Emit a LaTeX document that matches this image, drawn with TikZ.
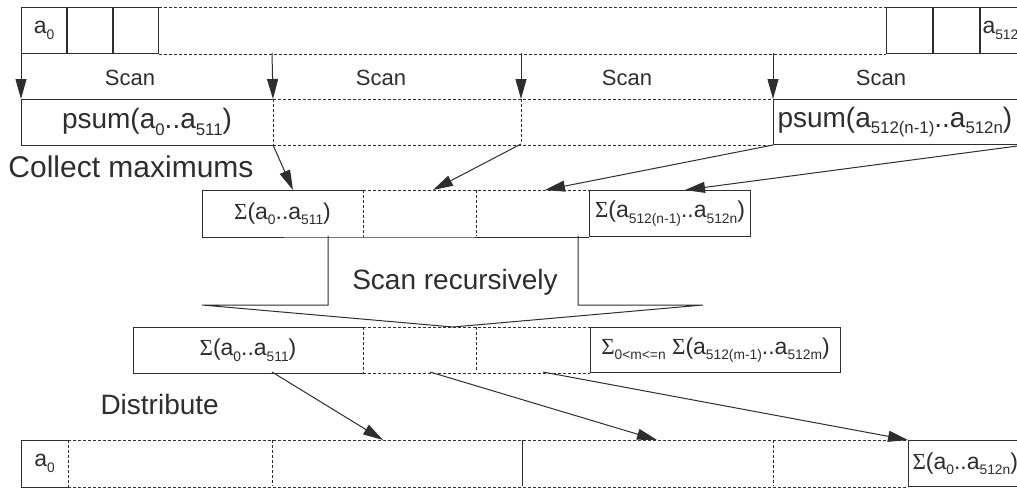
\documentclass[tikz,border=0pt]{standalone}
\usepackage{fontspec}
\usepackage{graphicx}
\setmainfont{Liberation Sans}
\newfontfamily\sigfont{Liberation Serif}
\usetikzlibrary{arrows.meta}
\definecolor{ink}{HTML}{2E2E2E}
\newcommand\idx[1]{\raisebox{-0.45ex}{\scalebox{0.6}{#1}}}
\newcommand\sig{{\sigfont Σ}}

\begin{document}
\begin{tikzpicture}[x=1pt,y=-1pt,color=ink,line width=1pt,
  cell/.style={anchor=north west,inner sep=0pt,minimum height=46pt,font=\fontsize{23}{26}\selectfont},
  box/.style={cell,draw},
  dsh/.style={dash pattern=on 3pt off 2pt},
  arr/.style={-{Triangle[length=20pt,width=11pt]}},
  scanlbl/.style={font=\fontsize{22}{24}\selectfont},
  lbl/.style={anchor=west,inner sep=0pt,font=\fontsize{30}{32}\selectfont}]
\useasboundingbox (0,0) rectangle (1017,488);
\clip (0,0) rectangle (1017,488);
\fill[white] (0,0) rectangle (1017,488);

\node[box,minimum width=45pt] (a0) at (21,7) {a\idx{0}};
\node[box,minimum width=45pt] (a1) at (a0.north east) {};
\node[box,minimum width=45pt] (a2) at (a1.north east) {};
\node[box,minimum width=46pt] (b2) at (886,7) {};
\node[box,minimum width=46pt] (b1) at (b2.north east) {};
\node[box,minimum width=42pt,text width=38pt,inner xsep=2pt,align=left] (an) at (b1.north east) {a\idx{512n}};
\draw[dsh] (a2.north east) -- (b2.north west) (a2.south east) -- (b2.south west);

\node[scanlbl] (s1) at (130,78) {Scan};
\node[scanlbl] (s2) at (381,78) {Scan};
\node[scanlbl] (s3) at (627,78) {Scan};
\node[scanlbl] (s4) at (881,78) {Scan};

\node[cell,minimum width=251pt,minimum height=45pt,font=\fontsize{28}{30}\selectfont] (p1) at (21,99) {psum(a\idx{0}..a\idx{511})};
\node[box,minimum width=247pt,minimum height=45pt,font=\fontsize{28}{30}\selectfont,text width=243pt,inner xsep=4pt,align=left] (pn) at (773,99) {psum(a\idx{512(n-1)}..a\idx{512n})};
\draw (p1.north east) -- (p1.north west) -- (p1.south west) -- (p1.south east);
\draw[dsh] (p1.north east) -- (p1.south east);
\coordinate (m1) at (521,99);
\coordinate (m1s) at (521,144);
\draw[dsh] (p1.north east) -- (pn.north west) (p1.south east) -- (pn.south west) (m1) -- (m1s);

\coordinate (t2) at (272,53);
\coordinate (t3) at (521,53);
\coordinate (t4) at (773,53);
\draw[arr] (a0.south west) -- (p1.north west);
\draw[arr] (t2) -- (p1.north east);
\draw[arr] (t3) -- (m1);
\draw[arr] (t4) -- (pn.north west);

\node[lbl] (cm) at (8,167) {Collect maximums};

\node[cell,minimum width=160pt] (c1) at (202,190) {\sig(a\idx{0}..a\idx{511})};
\node[box,minimum width=161pt] (cn) at (589,190) {\sig(a\idx{512(n-1)}..a\idx{512n})};
\draw (c1.north east) -- (c1.north west) -- (c1.south west) -- (c1.south east) -- (cn.south west);
\coordinate (c2) at (476,190);
\coordinate (c2s) at (476,236);
\draw[dsh] (c1.north east) -- (c1.south east) (c1.north east) -- (cn.north west) (c2) -- (c2s);

\coordinate (k1) at (293,190);
\coordinate (k2) at (433,190);
\coordinate (k3) at (545,190);
\coordinate (k4) at (685,190);
\draw[arr] (p1.south east) -- (k1);
\draw[arr] (m1s) -- (k2);
\draw[arr] (pn.south west) -- (k3);
\draw[arr] (pn.south east) -- (k4);

\draw (328,236) -- (328,305) -- (202,305) -- (453,327) -- (703,305) -- (578,305) -- (578,236);
\node[font=\fontsize{28}{30}\selectfont] (sr) at (455,282) {Scan recursively};

\node[cell,minimum width=229pt,minimum height=45pt] (d1) at (133,327) {\sig(a\idx{0}..a\idx{511})};
\node[box,minimum width=250pt,minimum height=45pt] (dn) at (590,327) {\sig\idx{0<m<=n} \sig(a\idx{512(m-1)}..a\idx{512m})};
\draw (d1.north east) -- (d1.north west) -- (d1.south west) -- (d1.south east);
\coordinate (d2) at (476,327);
\coordinate (d2s) at (476,372);
\draw[dsh] (d1.north east) -- (d1.south east) (d1.north east) -- (dn.north west) (d1.south east) -- (dn.south west) (d2) -- (d2s);

\node[lbl,font=\fontsize{28}{30}\selectfont] (ds) at (100,404) {Distribute};

\node[cell,minimum width=46pt] (e0) at (21,440) {a\idx{0}};
\node[box,minimum width=112pt,text width=108pt,inner xsep=4pt,align=left] (en) at (908,440) {\sig(a\idx{0}..a\idx{512n})};
\draw (e0.north east) -- (e0.north west) -- (e0.south west) -- (e0.south east);
\coordinate (e1) at (272,440);
\coordinate (e1s) at (272,486);
\coordinate (e2) at (522,440);
\coordinate (e2s) at (522,486);
\coordinate (e3) at (773,440);
\coordinate (e3s) at (773,486);
\draw[dsh] (e0.north east) -- (e0.south east) (e0.north east) -- (en.north west) (e0.south east) -- (en.south west) (e1) -- (e1s) (e3) -- (e3s);
\draw (e2) -- (e2s);

\coordinate (r1) at (272,372);
\coordinate (r2) at (430,372);
\coordinate (r3) at (543,372);
\coordinate (u1) at (383,440);
\coordinate (u2) at (657,440);
\draw[arr] (r1) -- (u1);
\draw[arr] (r2) -- (u2);
\draw[arr] (r3) -- (en.north west);
\end{tikzpicture}
\end{document}
